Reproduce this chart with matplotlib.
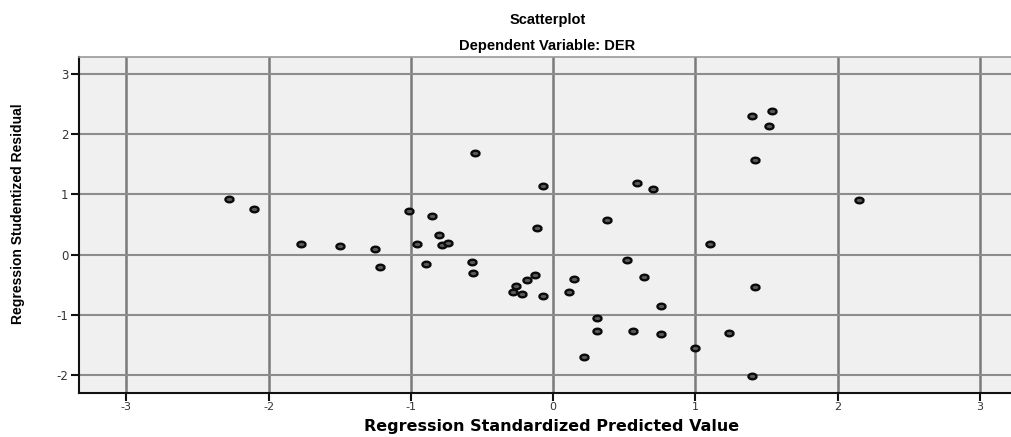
import numpy as np
import matplotlib
matplotlib.use("Agg")
import matplotlib.pyplot as plt

# predicted (x) vs studentized residual (y)
pred = [-2.28, -2.10, -1.77, -1.50, -1.25, -1.22, -1.01, -0.96, -0.89, -0.85,
        -0.80, -0.78, -0.74, -0.55, -0.57, -0.56, -0.11, -0.07, -0.13, -0.18,
        -0.26, -0.28, -0.22, -0.07, 0.11, 0.15, 0.22, 0.31, 0.31, 0.38,
        0.59, 0.70, 0.52, 0.56, 0.64, 0.76, 0.76, 1.10, 1.24, 1.00,
        1.40, 1.42, 1.42, 1.40, 1.54, 1.52, 2.15]
resid = [0.93, 0.76, 0.18, 0.15, 0.10, -0.20, 0.73, 0.18, -0.15, 0.65,
         0.33, 0.16, 0.20, 1.68, -0.12, -0.30, 0.45, 1.14, -0.33, -0.41,
         -0.51, -0.62, -0.65, -0.68, -0.61, -0.40, -1.69, -1.04, -1.26, 0.58,
         1.19, 1.09, -0.09, -1.26, -0.37, -0.84, -1.31, 0.18, -1.29, -1.55,
         -2.01, -0.53, 1.58, 2.30, 2.39, 2.14, 0.91]

xticks = [-3, -2, -1, 0, 1, 2, 3]
yticks = [-2, -1, 0, 1, 2, 3]

fig = plt.figure(figsize=(10.12, 4.37), dpi=100)
ax = fig.add_axes([0.078, 0.1007, 0.93, 0.769])
ax.set_facecolor('#f0f0f0')

# slightly flat ellipse marker like the SPSS output
t = np.linspace(0, 2 * np.pi, 41)
ell = np.column_stack([1.45 * np.cos(t), np.sin(t)])

ax.scatter(pred, resid, marker=ell, s=34, facecolor='#5a5a5a',
           edgecolor='#0a0a0a', linewidth=1.7, zorder=3)

ax.set_xlim(-3.333, 3.283)
ax.set_ylim(-2.29, 3.28)
ax.set_xticks(xticks)
ax.set_yticks(yticks)
ax.set_xticklabels([str(v) for v in xticks], color='#333333', fontsize=8,
                   family='DejaVu Sans')
ax.set_yticklabels([str(v) for v in yticks], color='#333333', fontsize=8.5,
                   family='DejaVu Sans')

for v in xticks:
    ax.axvline(v, color='#7a7a7a', linewidth=1.8, zorder=1)
for v in yticks:
    ax.axhline(v, color='#8c8c8c', linewidth=1.5, zorder=1)

ax.tick_params(direction='out', length=6, width=1.5, color='#111111')
ax.tick_params(axis='x', pad=0.5)
ax.tick_params(axis='y', pad=1.5)
ax.spines['left'].set_color('#111111')
ax.spines['bottom'].set_color('#111111')
ax.spines['left'].set_linewidth(1.5)
ax.spines['bottom'].set_linewidth(1.5)
ax.spines['top'].set_color('#999999')
ax.spines['top'].set_linewidth(1.2)
ax.spines['right'].set_visible(False)

fig.text(0.541, 0.955, 'Scatterplot', ha='center', va='center',
         fontsize=10.5, fontweight='bold', family='Liberation Sans')
fig.text(0.541, 0.895, 'Dependent Variable: DER', ha='center', va='center',
         fontsize=10.5, fontweight='bold', family='Liberation Sans')

fig.text(0.545, 0.024, 'Regression Standardized Predicted Value',
         ha='center', va='center', fontsize=11.5, fontweight='bold',
         family='DejaVu Sans')
fig.text(0.018, 0.51, 'Regression Studentized Residual', rotation=90,
         ha='center', va='center', fontsize=10, fontweight='bold',
         family='Liberation Sans')

fig.savefig('out.png', dpi=100)
